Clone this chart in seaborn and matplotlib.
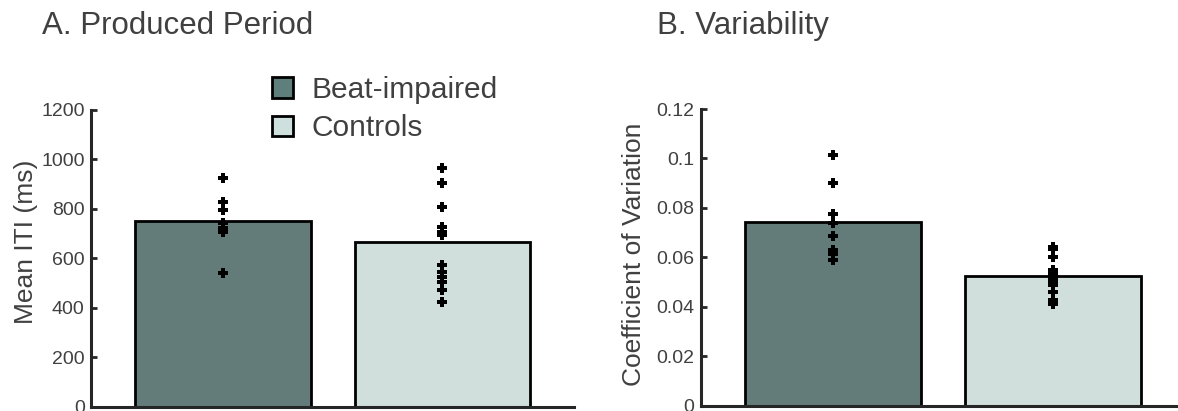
import numpy as np
import pandas as pd
import matplotlib
matplotlib.use("Agg")
import matplotlib.pyplot as plt
import seaborn as sns
from matplotlib.patches import Patch
from matplotlib.ticker import FuncFormatter

# ---------------- data ----------------
groups = ["Beat-impaired", "Controls"]
iti_beat = [924, 829, 795, 741, 721, 708, 539]
iti_ctrl = [964, 903, 809, 809, 728, 707, 694, 573, 546, 525, 505, 472, 424]
cv_beat = [0.1014, 0.0901, 0.0777, 0.0737, 0.0685, 0.0628, 0.0615, 0.0588]
cv_ctrl = [0.0642, 0.0632, 0.0601, 0.0547, 0.0540, 0.0534, 0.0523, 0.0507,
           0.0493, 0.0486, 0.0459, 0.0426, 0.0409]
iti_ticks = [0, 200, 400, 600, 800, 1000, 1200]
cv_ticks = [0, 0.02, 0.04, 0.06, 0.08, 0.1, 0.12]
titles = ["A. Produced Period", "B. Variability"]
ylabels = ["Mean ITI (ms)", "Coefficient of Variation"]

colors = ["#5F7F7C", "#CEE0DE"]
txt = "#404040"

sns.set_style("white")
plt.rcParams["font.family"] = ["Liberation Sans", "DejaVu Sans"]

def long_df(a, b):
    return pd.DataFrame({"group": [groups[0]] * len(a) + [groups[1]] * len(b),
                         "value": list(a) + list(b)})

df_iti = long_df(iti_beat, iti_ctrl)
df_cv = long_df(cv_beat, cv_ctrl)

W, H = 1178, 411
fig = plt.figure(figsize=(W / 100, H / 100), dpi=100)
ax1 = fig.add_axes([91 / W, (H - 406.5) / H, 483.3 / W, 296.5 / H])
ax2 = fig.add_axes([700.5 / W, (H - 405.5) / H, 484.5 / W, 296.5 / H])

panels = [(ax1, df_iti, iti_ticks, (0, 1200), 0.556, -0.110),
          (ax2, df_cv, cv_ticks, (0, 0.12), 0.51, -0.1125)]

for i, (ax, df, ticks, ylim, ly, lx) in enumerate(panels):
    sns.barplot(data=df, x="group", y="value", hue="group", palette=colors,
                order=groups, hue_order=groups, estimator="mean", errorbar=None,
                width=0.8, edgecolor="black", linewidth=2, legend=False, ax=ax)
    sns.stripplot(data=df, x="group", y="value", order=groups, color="black",
                  marker="P", size=6.5, jitter=False, linewidth=0, ax=ax, zorder=5)
    ax.set_xlim(-0.6, 1.6)
    ax.set_ylim(*ylim)
    ax.set_yticks(ticks)
    ax.yaxis.set_major_formatter(FuncFormatter(lambda v, p: f"{v:g}"))
    ax.set_xticks([])
    ax.set_xlabel("")
    ax.set_ylabel(ylabels[i], fontsize=19, color=txt)
    ax.yaxis.set_label_coords(lx, ly)
    ax.tick_params(axis="y", direction="in", length=4, width=2, color="#262626",
                   labelsize=14, labelcolor=txt, pad=4.5, left=True)
    for s in ["top", "right"]:
        ax.spines[s].set_visible(False)
    for s in ["left", "bottom"]:
        ax.spines[s].set_linewidth(2.2)
        ax.spines[s].set_color("#262626")
    ax.set_facecolor("none")

fig.text(41.7 / W, 1 - 34.3 / H, titles[0], fontsize=22.5, color=txt,
         ha="left", va="baseline")
fig.text(657 / W, 1 - 34.3 / H, titles[1], fontsize=22.5, color=txt,
         ha="left", va="baseline")

handles = [Patch(facecolor=c, edgecolor="black", linewidth=2) for c in colors]
leg = fig.legend(handles, groups, loc="upper left",
                 bbox_to_anchor=(271.5 / W, 1 - 76 / H), frameon=False,
                 fontsize=21.5, handlelength=0.72, handleheight=0.66,
                 handletextpad=0.62, labelspacing=0.35, borderpad=0,
                 borderaxespad=0)
for t in leg.get_texts():
    t.set_color(txt)

fig.savefig("out.png", dpi=100)
